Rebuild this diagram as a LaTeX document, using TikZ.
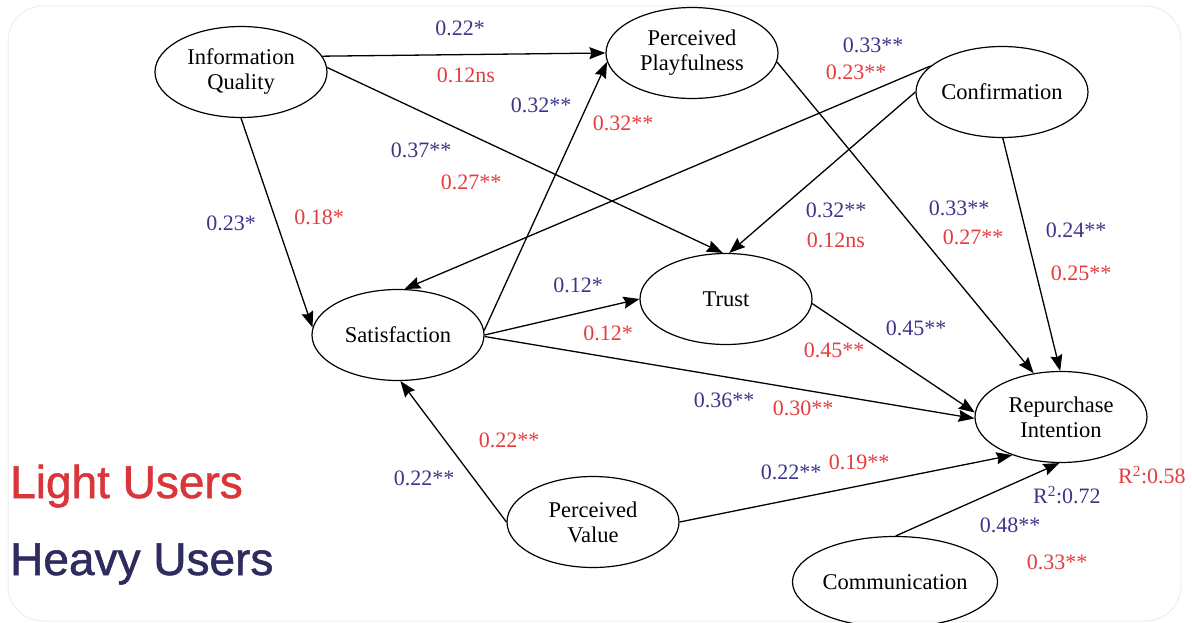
\documentclass[tikz,border=0pt]{standalone}
\usepackage{fontspec}
\setmainfont{Liberation Serif}
\newfontfamily\arialfont[FakeBold=1.2]{Liberation Sans}
\usetikzlibrary{shapes.geometric,arrows.meta}
\definecolor{hblue}{HTML}{3B3689}
\definecolor{lred}{HTML}{E63B3D}
\definecolor{heavyc}{HTML}{2E2B5F}
\definecolor{lightc}{HTML}{D8363B}
\begin{document}
\begin{tikzpicture}[x=1pt,y=-1pt,
  construct/.style={ellipse,draw,line width=1.2pt,minimum width=172pt,minimum height=91pt,inner sep=0pt,align=center,font=\fontsize{22.5}{25}\selectfont},
  conn/.style={line width=1.3pt,-{Stealth[length=16pt,width=12pt,inset=2pt]}},
  hb/.style={text=hblue,font=\fontsize{22}{24}\selectfont,inner sep=0pt},
  lr/.style={text=lred,font=\fontsize{22}{24}\selectfont,inner sep=0pt},
  legend/.style={font=\arialfont\fontsize{46}{50}\selectfont,anchor=base west,inner sep=0pt}]
\useasboundingbox (0,0) rectangle (1192,623);
\draw[black!7,line width=1pt,rounded corners=35pt] (8,6) rectangle (1181,621);
% constructs
\node[construct] (iq) at (241,72) {Information\\Quality};
\node[construct] (pp) at (692,53) {Perceived\\Playfulness};
\node[construct] (conf) at (1002,92) {Confirmation};
\node[construct] (trust) at (726,299) {Trust};
\node[construct] (sat) at (398,335) {Satisfaction};
\node[construct] (pv) at (593,522) {Perceived\\Value};
\node[construct] (rep) at (1061,417) {Repurchase\\Intention};
\node[construct] (comm) at (895,582) {Communication};
% connectors
\draw[conn] (iq.11) -- (pp.180);
\draw[conn] (iq.3) -- (trust.94);
\draw[conn] (iq.-90) -- (sat.175);
\draw[conn] (sat.3) -- (pp.186);
\draw[conn] (conf.160) -- (sat.82);
\draw[conn] (conf.180) -- (trust.86);
\draw[conn] (pp.-6) -- (rep.122);
\draw[conn] (conf.-89) -- (rep.91);
\draw[conn] (sat.0) -- (trust.180);
\draw[conn] (trust.-3) -- (rep.177);
\draw[conn] (sat.-1) -- (rep.181);
\draw[conn] (pv.180) -- (sat.-87);
\draw[conn] (pv.0) -- (rep.218);
\draw[conn] (comm.89) -- (rep.-92);
% coefficients
\node[hb] (c1h) at (460,28) {0.22*};
\node[lr] (c1l) at (466,75) {0.12ns};
\node[hb] (c2h) at (421,150) {0.37**};
\node[lr] (c2l) at (471,182) {0.27**};
\node[hb] (c3h) at (231,223) {0.23*};
\node[lr] (c3l) at (319,217) {0.18*};
\node[hb] (c4h) at (541,105) {0.32**};
\node[lr] (c4l) at (623,123) {0.32**};
\node[hb] (c5h) at (873,45) {0.33**};
\node[lr] (c5l) at (856,72) {0.23**};
\node[hb] (c6h) at (836,210) {0.32**};
\node[lr] (c6l) at (836,240) {0.12ns};
\node[hb] (c7h) at (959,208) {0.33**};
\node[lr] (c7l) at (973,237) {0.27**};
\node[hb] (c8h) at (1076,230) {0.24**};
\node[lr] (c8l) at (1081,273) {0.25**};
\node[hb] (c9h) at (578,285) {0.12*};
\node[lr] (c9l) at (608,333) {0.12*};
\node[hb] (c10h) at (916,328) {0.45**};
\node[lr] (c10l) at (834,350) {0.45**};
\node[hb] (c11h) at (724,400) {0.36**};
\node[lr] (c11l) at (803,408) {0.30**};
\node[hb] (c12h) at (424,478) {0.22**};
\node[lr] (c12l) at (509,440) {0.22**};
\node[hb] (c13h) at (791,472) {0.22**};
\node[lr] (c13l) at (859,462) {0.19**};
\node[hb] (c14h) at (1010,525) {0.48**};
\node[lr] (c14l) at (1057,562) {0.33**};
\node[hb,anchor=west] (r2h) at (1033,495) {R\textsuperscript{2}:0.72};
\node[lr,anchor=west] (r2l) at (1118,475) {R\textsuperscript{2}:0.58};
% legend
\node[legend,text=lightc] (light) at (10,498) {Light Users};
\node[legend,text=heavyc] (heavy) at (10,575) {Heavy Users};
\end{tikzpicture}
\end{document}
